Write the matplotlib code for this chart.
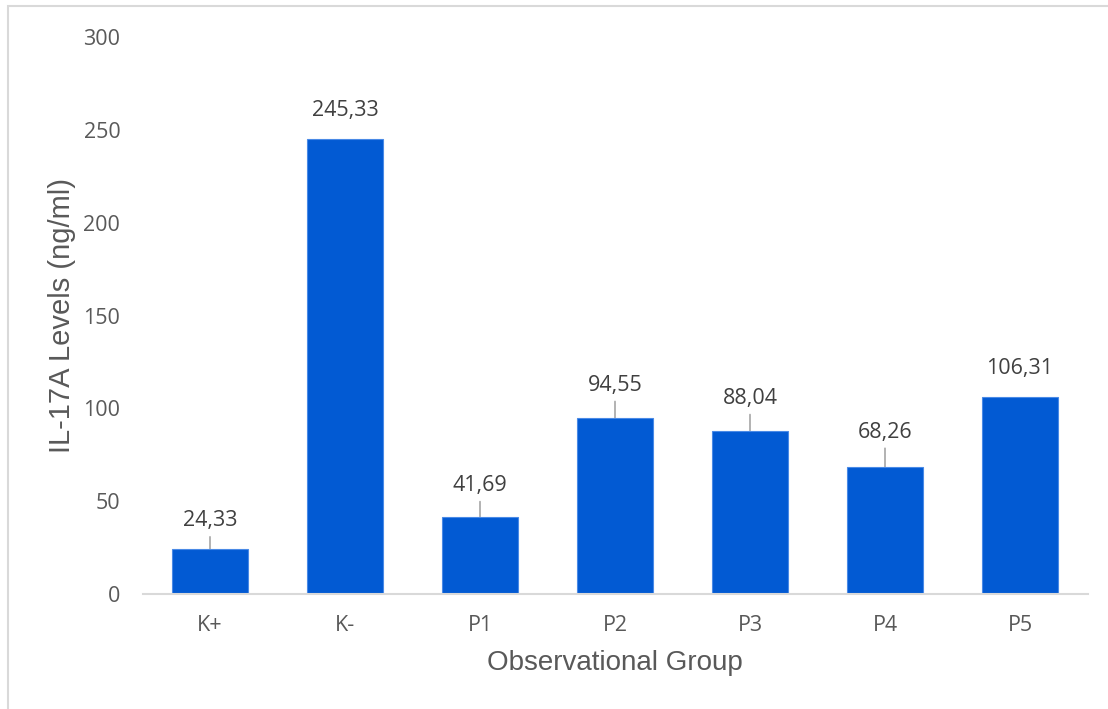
import matplotlib
matplotlib.use("Agg")
import matplotlib.pyplot as plt
from matplotlib.patches import Rectangle

categories = ["K+", "K-", "P1", "P2", "P3", "P4", "P5"]
values = [24.33, 245.33, 41.69, 94.55, 88.04, 68.26, 106.31]
value_labels = ["24,33", "245,33", "41,69", "94,55", "88,04", "68,26", "106,31"]
y_ticks = [0, 50, 100, 150, 200, 250, 300]

# label placement style (pixels above bar top) and leader-line flags
label_offsets = [28, 28, 31, 33, 32, 35, 28]
leader_flags = [True, False, True, True, True, True, False]

W, H = 1108, 709
fig = plt.figure(figsize=(W / 100, H / 100), dpi=100)
fig.patch.set_facecolor("white")

# outer chart border (extends past right/bottom edges)
fig.add_artist(Rectangle((8 / W, -0.1), 1.2, (1 - 6 / H) + 0.1, transform=fig.transFigure,
                         fill=False, edgecolor="#d9d9d9", linewidth=1.5, clip_on=False))

ax_left, ax_right, ax_top, ax_bot = 142.5, 1087.5, 37, 594
ax = fig.add_axes([ax_left / W, 1 - ax_bot / H, (ax_right - ax_left) / W, (ax_bot - ax_top) / H])
x = list(range(len(categories)))
ax.bar(x, values, width=0.57, color="#025ad3", edgecolor="#4a8ae6", linewidth=0.8, zorder=2)
ax.set_xlim(-0.5, len(categories) - 0.5)
ax.set_ylim(0, 300)
ax.set_yticks(y_ticks)
ax.set_xticks(x)
ax.set_xticklabels(categories)

for s in ["top", "right", "left"]:
    ax.spines[s].set_visible(False)
ax.spines["bottom"].set_color("#d9d9d9")
ax.spines["bottom"].set_linewidth(1.5)
ax.tick_params(axis="both", length=0, colors="#595959", labelsize=15.5)
ax.tick_params(axis="y", pad=16)
ax.tick_params(axis="x", pad=15)
for lab in ax.get_xticklabels() + ax.get_yticklabels():
    lab.set_fontfamily("Open Sans")

ax.set_ylabel("IL-17A Levels (ng/ml)", fontsize=21, color="#595959",
              fontfamily="Liberation Sans", va="center", ha="center", rotation_mode="anchor")
ax.yaxis.set_label_coords((62 - ax_left) / (ax_right - ax_left), 0.5)
ax.set_xlabel("Observational Group", fontsize=20, color="#595959",
              fontfamily="Liberation Sans", va="center", ha="center")
ax.xaxis.set_label_coords(0.5, (ax_bot - 663) / (ax_bot - ax_top))

px2pt = 72 / 100
for xi, v, lab, off, lead in zip(x, values, value_labels, label_offsets, leader_flags):
    ax.annotate(lab, (xi, v), xytext=(0, off * px2pt), textcoords="offset points",
                ha="center", va="center", fontsize=15.5, color="#404040",
                fontfamily="Open Sans", zorder=3)
    if lead:
        ax.annotate("", (xi, v), xytext=(0, (off - 16) * px2pt), textcoords="offset points",
                    arrowprops=dict(arrowstyle="-", color="#a6a6a6", lw=1.2,
                                    shrinkA=0, shrinkB=0), zorder=1)

fig.savefig("out.png", dpi=100)
